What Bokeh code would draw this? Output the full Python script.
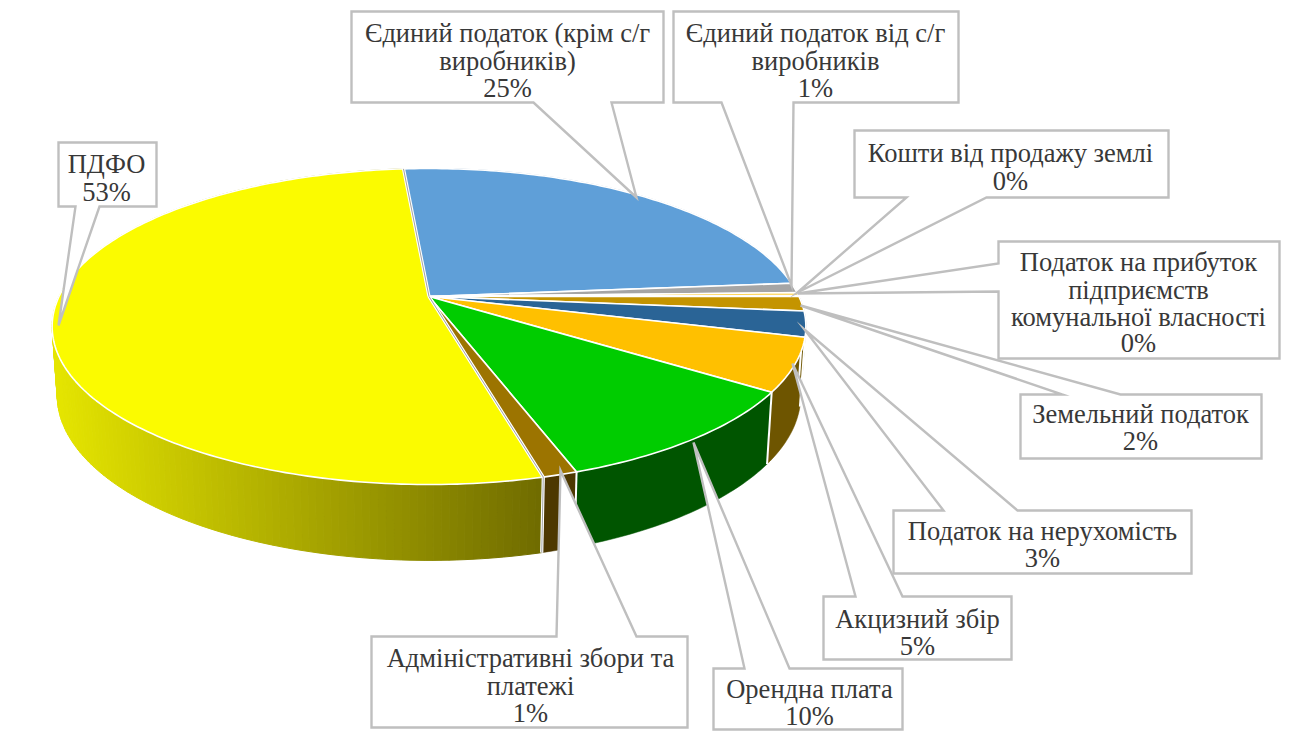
import math
from bokeh.plotting import figure
from bokeh.embed import file_html
from bokeh.resources import INLINE
from bokeh.core.properties import value

# ---- data (clockwise from the top) ----
label_lines = [
    ["Єдиний податок (крім с/г", "виробників)"],
    ["Єдиний податок від с/г", "виробників"],
    ["Кошти від продажу землі"],
    ["Податок на прибуток", "підприємств", "комунальної власності"],
    ["Земельний податок"],
    ["Податок на нерухомість"],
    ["Акцизний збір"],
    ["Орендна плата"],
    ["Адміністративні збори та", "платежі"],
    ["ПДФО"],
]
shares = [24.9, 1.0, 0.3, 0.1, 1.5, 2.6, 5.4, 10.2, 1.25, 52.75]
top_colors = ["#5F9FD8", "#A5A5A5", "#FFC000", "#FFD000", "#C49400", "#2A6496", "#FFC000", "#00CC00", "#9C7400", "#FBFB00"]
wall_colors = ["#2F5F8C", "#5A5A5A", "#7A5C00", "#7A5C00", "#6A5000", "#173A5C", "#6E5500", "#005500", "#4D3800", None]

# ---- layout: callout boxes (x0, y0, x1, y1), wedge base, wedge tip, text centre, line ys ----
callouts = [
    ((351, 11, 663, 102), [(611, 102), (533, 102)], (636, 197), 507, [32, 60, 87]),
    ((673, 11, 958, 102), [(793, 102), (721, 102)], (791, 285), 815, [32, 60, 87]),
    ((854, 130, 1168, 197), [(986, 197), (906, 197)], (797, 292), 1010, [152, 180]),
    ((998, 241, 1279, 358), [(998, 291), (998, 263)], (797, 293), 1138, [261, 289, 316, 342]),
    ((1020, 394, 1261, 458), [(1120, 394), (1062, 394)], (800, 305), 1140, [413, 440]),
    ((893, 510, 1191, 573), [(1017, 510), (943, 510)], (804, 329), 1042, [530, 557]),
    ((823, 596, 1011, 659), [(902, 596), (855, 596)], (792, 363), 917, [618, 645]),
    ((713, 668, 902, 729), [(789, 668), (744, 668)], (693, 442), 809, [688, 715]),
    ((371, 636, 687, 727), [(636, 636), (556, 636)], (560, 470), 530, [657, 685, 712]),
    ((58, 142, 156, 206), [(99, 206), (75, 206)], (58, 325), 106, [163, 191]),
]
draw_order = [9, 0, 1, 2, 3, 4, 5, 6, 7, 8]

W, H = 1301, 731
p = figure(width=W, height=H, x_range=(0, W), y_range=(H, 0),
           output_backend="svg", toolbar_location=None, min_border=0,
           outline_line_color=None, background_fill_color="white", border_fill_color="white")
p.axis.visible = False
p.grid.visible = False

K = 0.19
CX = 428.5


def ring(theta_deg, apex_y, a, b):
    t = math.radians(theta_deg)
    u, v = math.cos(t), math.sin(t)
    d = 1 + K * v
    return CX + a * u / d, apex_y - b * v / d


def top(theta):
    return ring(theta, 296, 370, 152.3)


def low(theta):
    return ring(theta, 363.6, 365, 159)


START = 94.7
bounds = [START]
for s in shares:
    bounds.append(bounds[-1] - s * 3.6)


def steps(a, b, n):
    return [a + (b - a) * i / n for i in range(n + 1)]


def lerp_hex(c0, c1, f):
    f = max(0, min(1, f))
    return "#%02x%02x%02x" % tuple(int(round(c0[i] + (c1[i] - c0[i]) * f)) for i in range(3))


# walls
wx, wy, wc = [], [], []
for i, s in enumerate(shares):
    a, b = bounds[i], bounds[i + 1]
    if wall_colors[i] is not None:
        ang = steps(a, b, max(2, int(abs(a - b))))
        t = [top(x) for x in ang]
        l = [low(x) for x in ang][::-1]
        wx.append([q[0] for q in t + l])
        wy.append([q[1] for q in t + l])
        wc.append(wall_colors[i])
p.patches(wx, wy, fill_color=wc, line_color=wc, line_width=0.5)

a, b = bounds[9], bounds[10]
gx, gy, gc = [], [], []
n = int(abs(a - b))
ang = steps(a, b, n)
for j in range(n):
    q = [top(ang[j]), top(ang[j + 1]), low(ang[j + 1]), low(ang[j])]
    xs = [r[0] for r in q]
    gx.append(xs)
    gy.append([r[1] for r in q])
    f = (sum(xs) / 4 - 52) / (540 - 52)
    gc.append(lerp_hex((230, 230, 0), (112, 108, 0), f))
p.patches(gx, gy, fill_color=gc, line_color=gc, line_width=1)

# wall separators
sx, sy = [], []
for th in bounds[1:]:
    A, B = top(th), low(th)
    sx.append([A[0], B[0]])
    sy.append([A[1], B[1]])
p.multi_line(sx, sy, line_color="white", line_width=2)

# top face
fx, fy = [], []
for i in range(len(shares)):
    a, b = bounds[i], bounds[i + 1]
    ang = steps(a, b, max(2, int(abs(a - b))))
    pts = [(CX, 296)] + [top(x) for x in ang]
    fx.append([q[0] for q in pts])
    fy.append([q[1] for q in pts])
p.patches(fx, fy, fill_color=top_colors, line_color="white", line_width=1.6, line_join="round")

# double edge around the big slice
for th in (bounds[9], START):
    A = top(th)
    dx, dy = [CX, A[0]], [296, A[1]]
    if th == bounds[9]:
        B = low(th)
        dx, dy = [CX, A[0], B[0]], [296, A[1], B[1]]
    p.line(dx, dy, line_color="white", line_width=3.2)
    p.line(dx, dy, line_color="#8C8C8C", line_width=0.8)

# callouts


def callout_path(box, base, tip):
    x0, y0, x1, y1 = box
    corners = [(x0, y0), (x1, y0), (x1, y1), (x0, y1)]
    (bx0, by0), (bx1, by1) = base
    if by0 == y1:      # bottom edge: goes right to left
        return corners[:3] + [base[0], tip, base[1]] + corners[3:]
    if by0 == y0:      # top edge: draw from the right base point round the box
        return [(x0, y0), base[1], tip, base[0], (x1, y0), (x1, y1), (x0, y1)]
    return corners + [base[0], tip, base[1]]  # left edge


for i in draw_order:
    box, base, tip, cx, ys = callouts[i]
    path = callout_path(box, base, tip)
    p.patch([q[0] for q in path], [q[1] for q in path], fill_color="white",
            line_color="#BFBFBF", line_width=2.4, line_join="miter")
    lines = label_lines[i] + [f"{round(shares[i])}%"]
    p.text([cx] * len(lines), ys, text=lines, text_align="center", text_baseline="middle",
           text_font=value("Liberation Serif"), text_font_size="26.5px", text_color="#383838")

open("out.html", "w").write(file_html(p, INLINE))
